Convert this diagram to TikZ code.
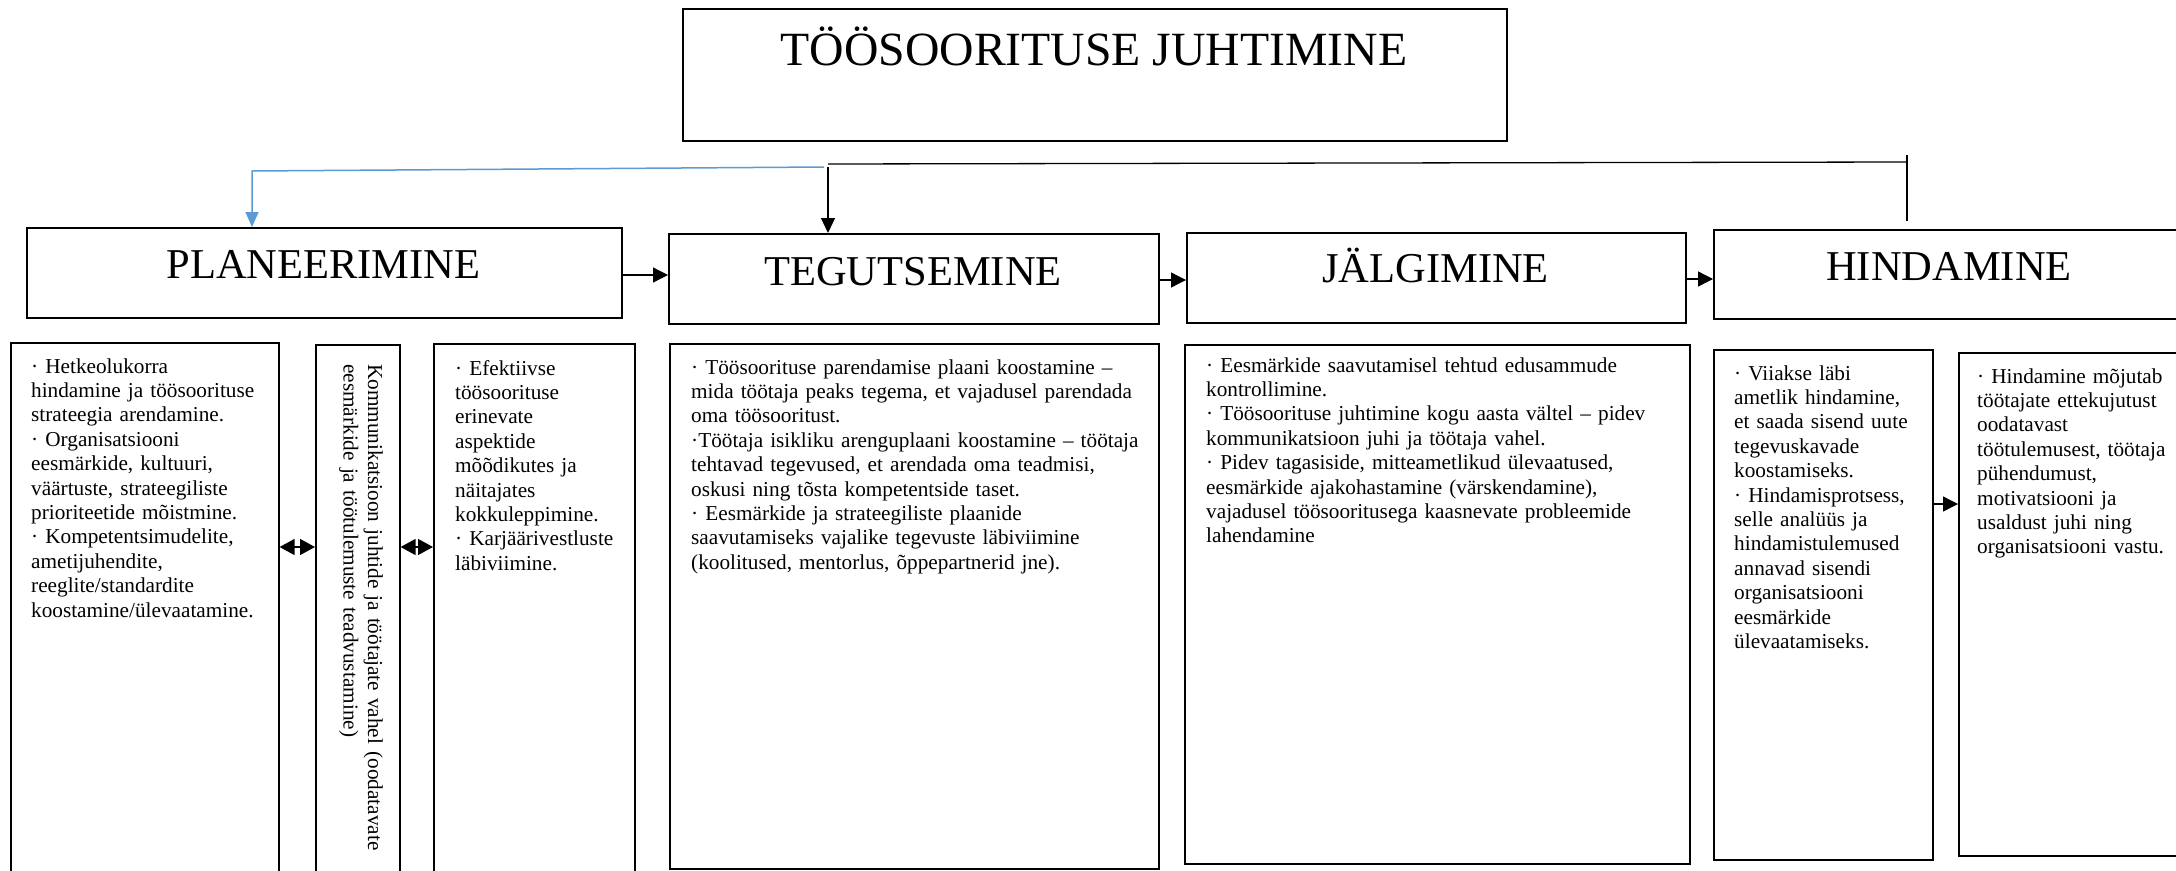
\documentclass[tikz,border=0pt]{standalone}
\usepackage{fontspec}
\setmainfont{Liberation Serif}
\usetikzlibrary{arrows.meta}
\definecolor{fbblue}{HTML}{5B9BD5}
\tikzset{
  box/.style={draw=black, line width=1.6pt, fill=white, anchor=north west, inner sep=0pt},
  ttl/.style={font=\fontsize{47.7}{56}\selectfont, anchor=base, inner sep=0pt},
  hdr/.style={font=\fontsize{42.5}{50}\selectfont, anchor=base, inner sep=0pt},
  body/.style={font=\fontsize{21.25}{24.4}\selectfont, anchor=base west, inner sep=0pt, align=left, text width=600pt},
  arr/.style={line width=1.3pt, -{Triangle[length=15pt,width=15pt]}},
  darr/.style={line width=1.3pt, {Triangle[length=15pt,width=16pt]}-{Triangle[length=15pt,width=16pt]}},
  fbline/.style={line width=1.3pt, draw=black},
  fbarr/.style={line width=1.3pt, draw=black, -{Triangle[length=15pt,width=14pt]}},
  bluearr/.style={line width=1.5pt, draw=fbblue, -{Triangle[length=15pt,width=13pt]}},
}
\begin{document}
\begin{tikzpicture}[x=1pt,y=-1pt]
\useasboundingbox (0,0) rectangle (2176,870);
\clip (0,0) rectangle (2176,870);
\fill[white] (0,0) rectangle (2176,870);

% title
\node[box, minimum width=824pt, minimum height=132pt] (title) at (682,8) {};
\node[ttl] (titletext) at (1094,65) {TÖÖSOORITUSE JUHTIMINE};

% header boxes
\node[box, minimum width=595pt, minimum height=90pt] (plan) at (26,227) {};
\node[box, minimum width=490pt, minimum height=90pt] (teg) at (668,233) {};
\node[box, minimum width=499pt, minimum height=90pt] (jal) at (1186,232) {};
\node[box, minimum width=472pt, minimum height=89pt] (hin) at (1713,229) {};
\node[hdr] (plantext) at (323.5,278) {PLANEERIMINE};
\node[hdr] (tegtext) at (913,285) {TEGUTSEMINE};
\node[hdr] (jaltext) at (1435.5,282.7) {JÄLGIMINE};
\node[hdr] (hintext) at (1949,280) {HINDAMINE};

% content boxes
\node[box, minimum width=268pt, minimum height=560pt] (b1) at (10,342) {};
\node[box, minimum width=84pt, minimum height=560pt] (b2) at (315,344) {};
\node[box, minimum width=201pt, minimum height=560pt] (b3) at (433,343) {};
\node[box, minimum width=489pt, minimum height=525pt] (b4) at (669,343) {};
\node[box, minimum width=505pt, minimum height=519pt] (b5) at (1184,344) {};
\node[box, minimum width=219pt, minimum height=510pt] (b6) at (1713,349) {};
\node[box, minimum width=260pt, minimum height=503pt] (b7) at (1958,352) {};

\node[body] (t1) at (31,373) {· Hetkeolukorra\\hindamine ja töösoorituse\\strateegia arendamine.\\· Organisatsiooni\\eesmärkide, kultuuri,\\väärtuste, strateegiliste\\prioriteetide mõistmine.\\· Kompetentsimudelite,\\ametijuhendite,\\reeglite/standardite\\koostamine/ülevaatamine.};
\node[body, rotate=-90] (t2) at (368,364) {Kommunikatsioon juhtide ja töötajate vahel (oodatavate\\eesmärkide ja töötulemuste teadvustamine)};
\node[body] (t3) at (455,375) {· Efektiivse\\töösoorituse\\erinevate\\aspektide\\mõõdikutes ja\\näitajates\\kokkuleppimine.\\· Karjäärivestluste\\läbiviimine.};
\node[body] (t4) at (691,374) {· Töösoorituse parendamise plaani koostamine –\\mida töötaja peaks tegema, et vajadusel parendada\\oma töösooritust.\\·Töötaja isikliku arenguplaani koostamine – töötaja\\tehtavad tegevused, et arendada oma teadmisi,\\oskusi ning tõsta kompetentside taset.\\· Eesmärkide ja strateegiliste plaanide\\saavutamiseks vajalike tegevuste läbiviimine\\(koolitused, mentorlus, õppepartnerid jne).};
\node[body] (t5) at (1206,372) {· Eesmärkide saavutamisel tehtud edusammude\\kontrollimine.\\· Töösoorituse juhtimine kogu aasta vältel – pidev\\kommunikatsioon juhi ja töötaja vahel.\\· Pidev tagasiside, mitteametlikud ülevaatused,\\eesmärkide ajakohastamine (värskendamine),\\vajadusel töösooritusega kaasnevate probleemide\\lahendamine};
\node[body] (t6) at (1734,380) {· Viiakse läbi\\ametlik hindamine,\\et saada sisend uute\\tegevuskavade\\koostamiseks.\\· Hindamisprotsess,\\selle analüüs ja\\hindamistulemused\\annavad sisendi\\organisatsiooni\\eesmärkide\\ülevaatamiseks.};
\node[body] (t7) at (1977,383) {· Hindamine mõjutab\\töötajate ettekujutust\\oodatavast\\töötulemusest, töötaja\\pühendumust,\\motivatsiooni ja\\usaldust juhi ning\\organisatsiooni vastu.};

% helper coordinates
\coordinate (ya) at (0,275);
\coordinate (yb) at (0,280);
\coordinate (yc) at (0,279);
\coordinate (yd) at (0,547);
\coordinate (ye) at (0,504);

% header arrows
\draw[arr] (plan.east |- ya) -- (teg.west |- ya);
\draw[arr] (teg.east |- yb) -- (jal.west |- yb);
\draw[arr] (jal.east |- yc) -- (hin.west |- yc);

% content arrows
\draw[darr] (b1.east |- yd) -- (b2.west |- yd);
\draw[darr] (b2.east |- yd) -- (b3.west |- yd);
\draw[arr] (b6.east |- ye) -- (b7.west |- ye);

% feedback loop
\coordinate (vtop) at (1907,155);
\coordinate (vbot) at (1907,221);
\coordinate (hr) at (1907,162);
\coordinate (hl) at (828,164);
\coordinate (jb) at (828,167);
\coordinate (br) at (824,167);
\coordinate (bl) at (252,171);
\draw[fbline] (vbot) -- (vtop);
\draw[fbline] (hr) -- (hl);
\draw[fbarr] (jb) -- (jb |- teg.north);
\draw[bluearr] (br) -- (bl) -- (bl |- plan.north);
\end{tikzpicture}
\end{document}
